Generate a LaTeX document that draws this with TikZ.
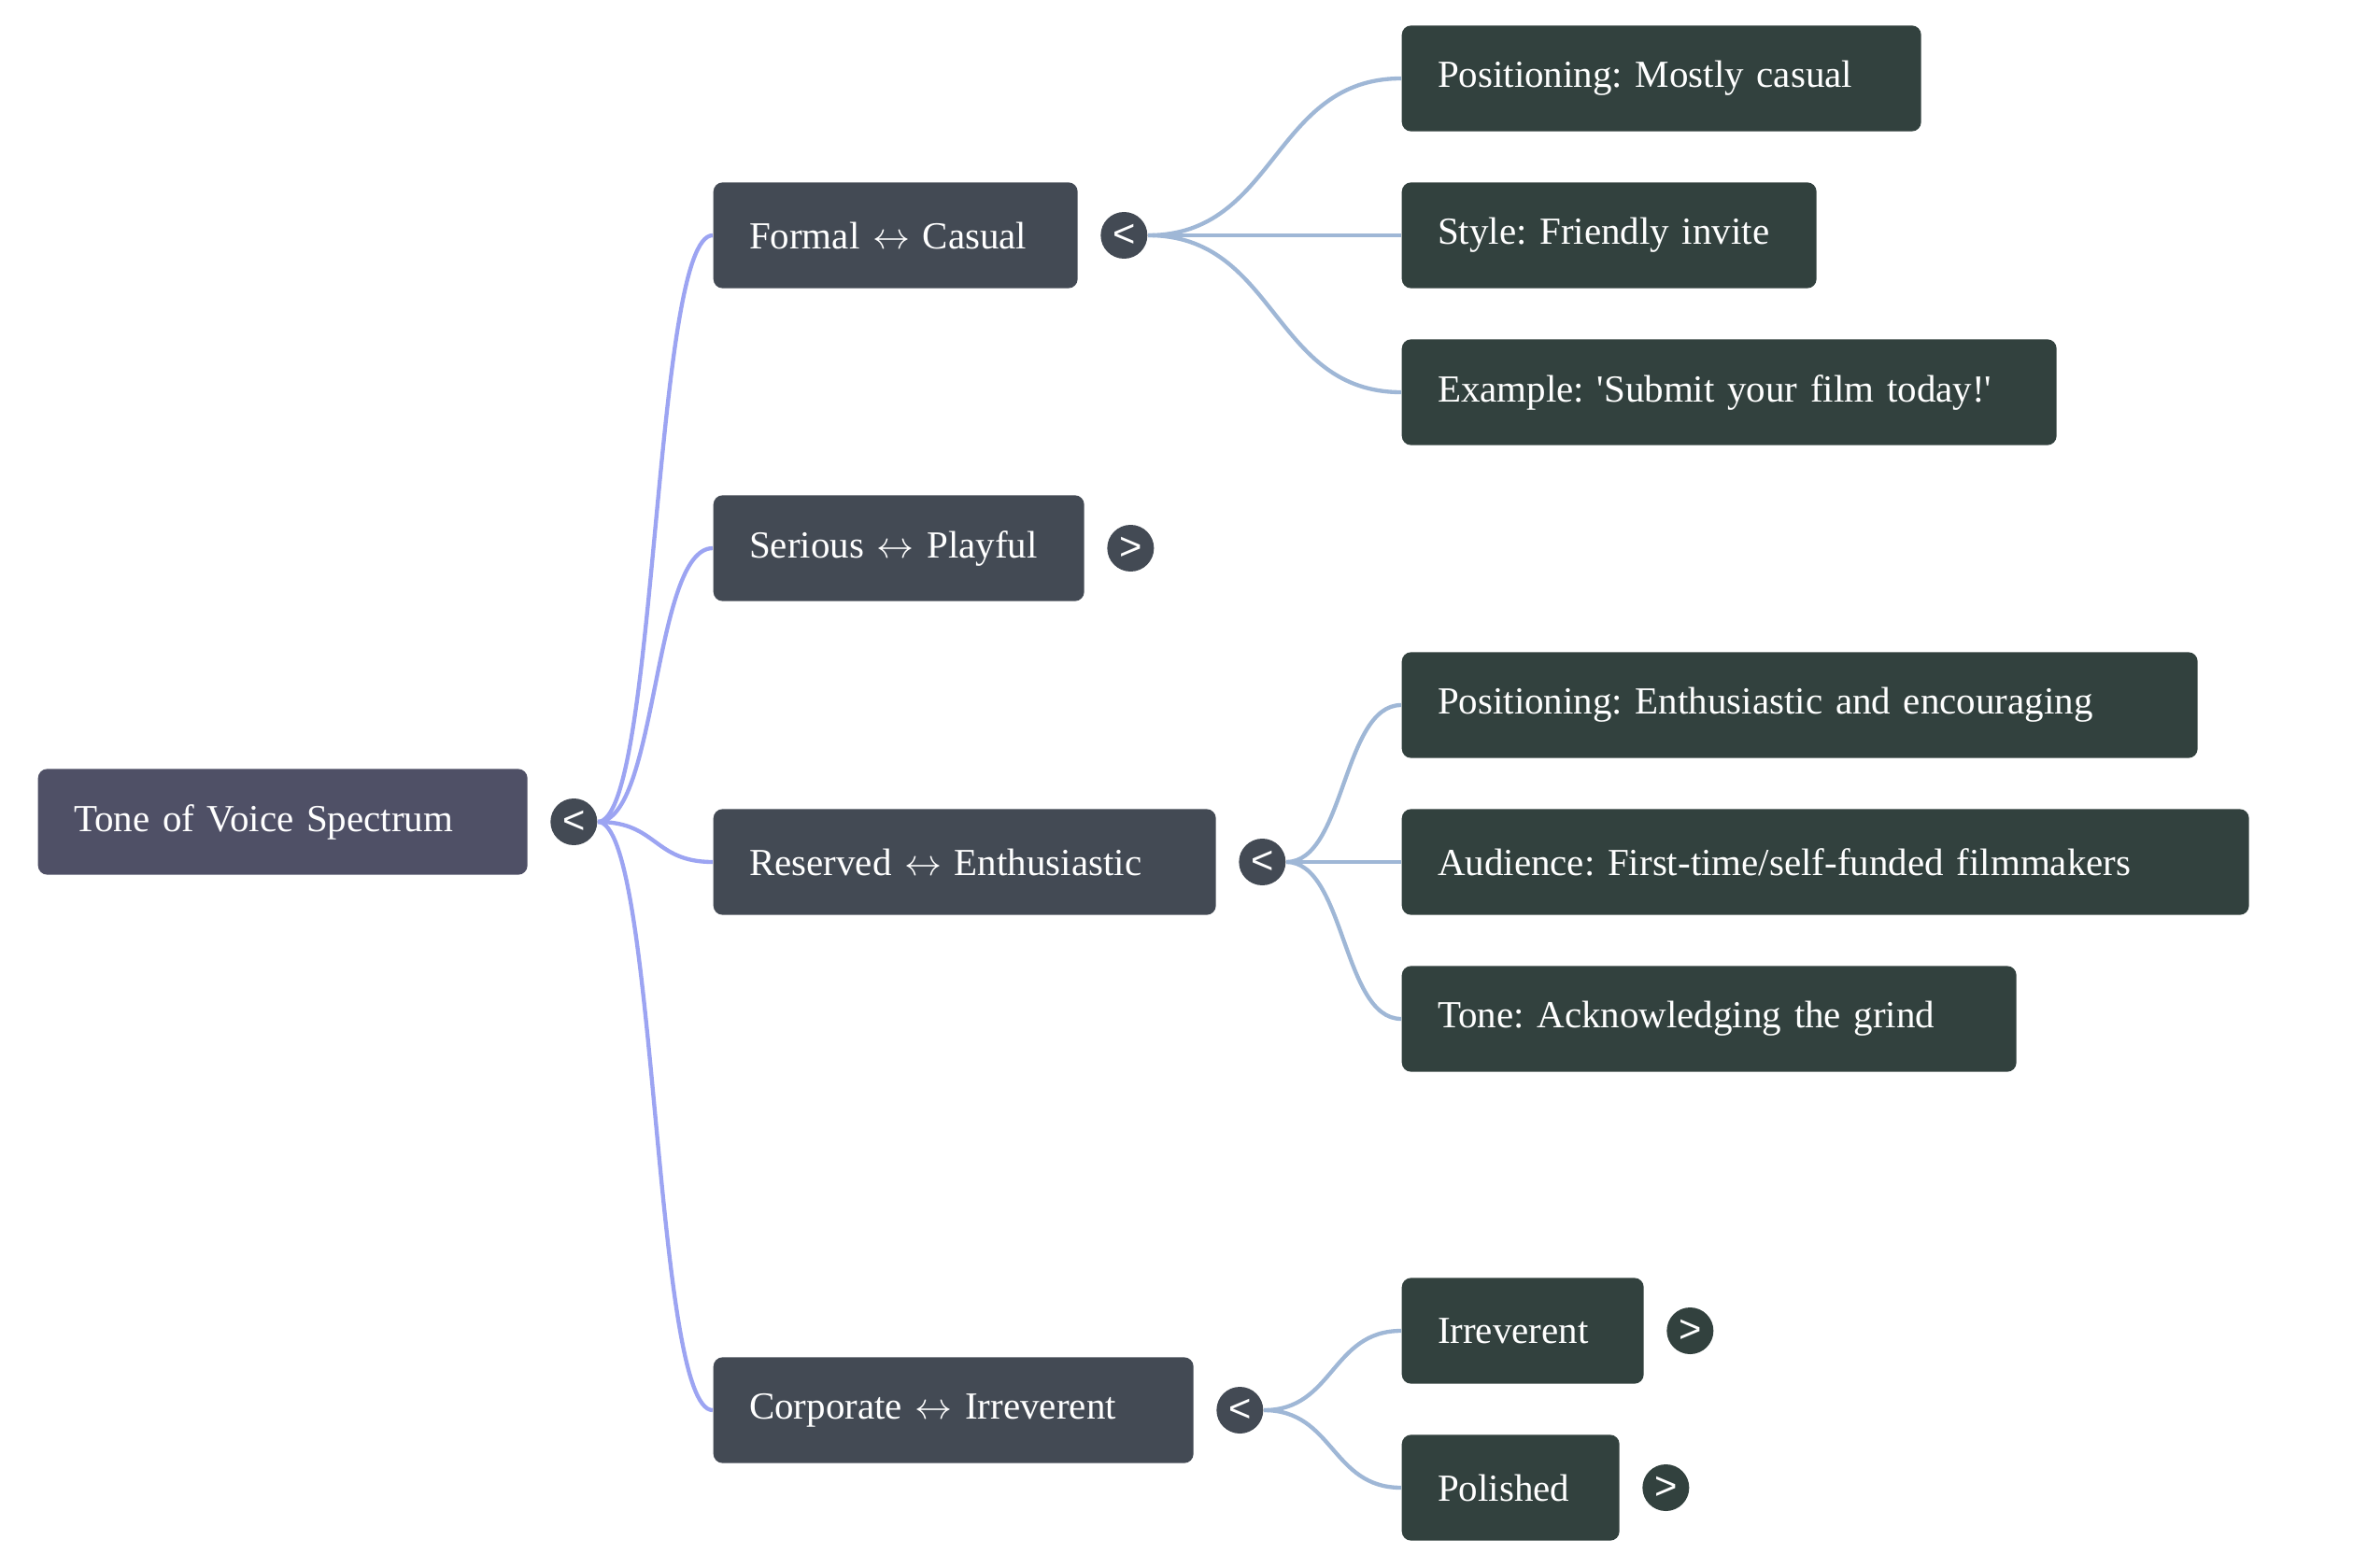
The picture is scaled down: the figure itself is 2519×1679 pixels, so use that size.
\documentclass[tikz,border=0pt]{standalone}
\usepackage{fontspec}
\setmainfont{Liberation Serif}
\newfontfamily\togglefont{Liberation Sans}
\usetikzlibrary{positioning}
\frenchspacing
\definecolor{rootfill}{HTML}{4F5066}
\definecolor{midfill}{HTML}{434A54}
\definecolor{leaffill}{HTML}{32413E}
\definecolor{rootline}{HTML}{9CA4F2}
\definecolor{leafline}{HTML}{9FB7D6}
\newcommand{\both}{$\leftrightarrow$}

\begin{document}
\begin{tikzpicture}[x=0.3pt, y=-0.3pt,
	box/.style={rounded corners=3pt, text=white, minimum height=34pt, inner xsep=11.5pt,
		anchor=west, text width=#1, align=left, font=\fontsize{12.3}{14}\selectfont},
	toggle/.style={circle, fill=#1, text=white, minimum size=15pt, inner sep=0pt,
		font=\togglefont\fontsize{12.5}{12.5}\selectfont},
	link/.style={line width=1.3pt}]
	\useasboundingbox (0,0) rectangle (2519,1679);

	\node[box=134.2pt, fill=rootfill] (tone) at (40,880) {Tone of Voice Spectrum};
	\node[toggle=midfill, right=7pt of tone] (toneT) {<};

	\node[box=94pt, fill=midfill] (formal) at (763,252) {Formal \both{} Casual};
	\node[toggle=midfill, right=7pt of formal] (formalT) {<};
	\node[box=96.1pt, fill=midfill] (serious) at (763,587) {Serious \both{} Playful};
	\node[toggle=midfill, right=7pt of serious] (seriousT) {>};
	\node[box=138.4pt, fill=midfill] (reserved) at (763,923) {Reserved \both{} Enthusiastic};
	\node[toggle=midfill, right=7pt of reserved] (reservedT) {<};
	\node[box=131.2pt, fill=midfill] (corporate) at (763,1510) {Corporate \both{} Irreverent};
	\node[toggle=midfill, right=7pt of corporate] (corporateT) {<};

	\node[box=143.8pt, fill=leaffill] (posCasual) at (1500,84) {Positioning: Mostly casual};
	\node[box=110.2pt, fill=leaffill] (style) at (1500,252) {Style: Friendly invite};
	\node[box=187.3pt, fill=leaffill] (example) at (1500,420)
		{Example: \textquotesingle Submit your film today!\textquotesingle};
	\node[box=232.6pt, fill=leaffill] (posEnth) at (1500,755) {Positioning: Enthusiastic and encouraging};
	\node[box=249.1pt, fill=leaffill] (audience) at (1500,923) {Audience: First-time/self-funded filmmakers};
	\node[box=174.4pt, fill=leaffill] (grind) at (1500,1091) {Tone: Acknowledging the grind};
	\node[box=54.7pt, fill=leaffill] (irreverent) at (1500,1425) {Irreverent};
	\node[toggle=leaffill, right=7pt of irreverent] (irreverentT) {>};
	\node[box=46.9pt, fill=leaffill] (polished) at (1500,1593) {Polished};
	\node[toggle=leaffill, right=7pt of polished] (polishedT) {>};

	\foreach \c in {formal,serious,reserved,corporate}
		\draw[link, rootline] (toneT.east) .. controls +(64,0) and +(-64,0) .. (\c.west);
	\foreach \c in {posCasual,style,example}
		\draw[link, leafline] (formalT.east) .. controls +(138,0) and +(-138,0) .. (\c.west);
	\foreach \c in {posEnth,audience,grind}
		\draw[link, leafline] (reservedT.east) .. controls +(63,0) and +(-63,0) .. (\c.west);
	\foreach \c in {irreverent,polished}
		\draw[link, leafline] (corporateT.east) .. controls +(75,0) and +(-75,0) .. (\c.west);
\end{tikzpicture}
\end{document}
